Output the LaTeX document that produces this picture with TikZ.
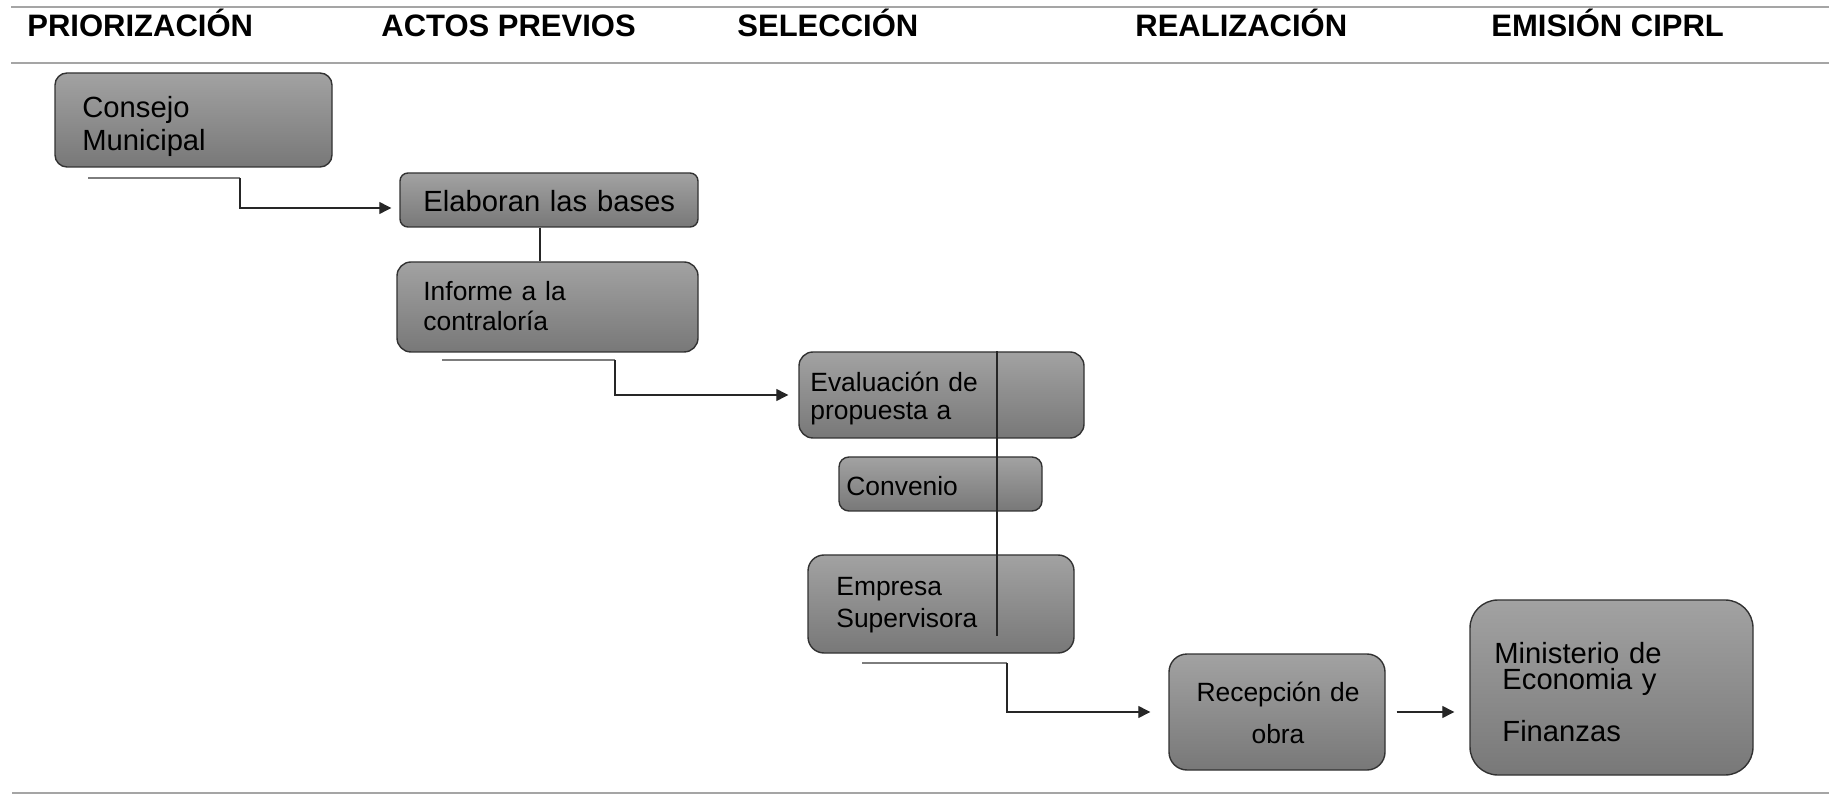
\documentclass[tikz,border=0pt]{standalone}
\usepackage{fontspec}
\setmainfont{Liberation Sans}
\usetikzlibrary{arrows.meta}
\definecolor{boxtop}{RGB}{162,162,162}
\definecolor{boxbot}{RGB}{120,120,120}
\definecolor{boxline}{RGB}{50,50,50}
\definecolor{rulec}{RGB}{165,165,165}
\definecolor{leadc}{RGB}{125,125,125}
\begin{document}
\begin{tikzpicture}[x=0.5pt,y=-0.5pt,
  box/.style={draw=boxline, line width=0.7pt, top color=boxtop, bottom color=boxbot, inner sep=0pt, rounded corners=#1},
  box/.default=5pt,
  head/.style={anchor=base west, inner sep=0pt, font=\fontsize{15.5}{18}\selectfont\bfseries},
  txt/.style={anchor=base west, inner sep=0pt, align=left, text width=#1},
  txt/.default=140pt,
  rulel/.style={draw=rulec, line width=1pt},
  leadl/.style={draw=leadc, line width=1pt},
  link/.style={draw=black!85, line width=0.6pt},
  arr/.style={link, -{Triangle[length=6pt,width=6pt]}}
]
\useasboundingbox (0,0) rectangle (1829,795);

% rules
\draw[rulel] (11,7.5) -- (1829,7.5);
\draw[rulel] (11,63.5) -- (1829,63.5);
\draw[rulel] (12,793) -- (1829,793);

% headers
\node[head] (h1) at (27,37) {PRIORIZACIÓN};
\node[head] (h2) at (381,37) {ACTOS PREVIOS};
\node[head] (h3) at (737,37) {SELECCIÓN};
\node[head] (h4) at (1135,37) {REALIZACIÓN};
\node[head] (h5) at (1491,37) {EMISIÓN CIPRL};

% boxes
\node[box=6pt, minimum width=138.5pt, minimum height=47pt] (consejo) at (193.5,120) {};
\node[box=4pt, minimum width=149pt, minimum height=27pt] (elab) at (549,200) {};
\node[box=7pt, minimum width=150.5pt, minimum height=45pt] (informe) at (547.5,307) {};
\node[box=7pt, minimum width=142.5pt, minimum height=43pt] (eval) at (941.5,395) {};
\node[box=5pt, minimum width=101.5pt, minimum height=27pt] (conv) at (940.5,484) {};
\node[box=8pt, minimum width=133pt, minimum height=49pt] (emp) at (941,604) {};
\node[box=9pt, minimum width=108pt, minimum height=58pt] (recep) at (1277,712) {};
\node[box=14pt, minimum width=141.5pt, minimum height=87.5pt] (minist) at (1611.5,687.5) {};

% texts
\node[txt, font=\fontsize{14.6}{16.25}\selectfont] (tconsejo) at (82,118) {Consejo\\Municipal};
\node[txt, font=\fontsize{14.6}{16.25}\selectfont] (telab) at (423,212) {Elaboran las bases};
\node[txt, font=\fontsize{13.2}{15}\selectfont] (tinforme) at (423,301) {Informe a la\\contraloría};
\node[txt, font=\fontsize{13.2}{14}\selectfont] (teval) at (810,392) {Evaluación de\\propuesta a};
\node[txt, font=\fontsize{13.2}{15}\selectfont] (tconv) at (846,496) {Convenio};
\node[txt, font=\fontsize{13.2}{16}\selectfont] (temp) at (836,596) {Empresa\\Supervisora};
\node[anchor=base, inner sep=0pt, align=center, text width=100pt, font=\fontsize{13.2}{21}\selectfont] (trecep) at (1278,701) {Recepción de\\obra};
\node[txt, font=\fontsize{14.6}{13}\selectfont] (tmin) at (1494,663) {Ministerio de\\\hspace*{4pt}Economia y\\[11.5pt]\hspace*{4pt}Finanzas};

% connectors
\coordinate (s1) at (88,178);
\coordinate (k1) at (240,178);
\draw[leadl] (s1) -- (k1);
\draw[arr, shorten >=4pt] (k1) |- ([yshift=-4pt]elab.west);

\coordinate (v1) at (540,0);
\draw[link] (elab.south -| v1) -- (informe.north -| v1);

\coordinate (s2) at (442,360);
\coordinate (k2) at (615,360);
\draw[leadl] (s2) -- (k2);
\draw[arr, shorten >=5pt] (k2) |- (eval.west);

\coordinate (vend) at (997,636);
\draw[link] (vend |- eval.north) -- (vend);

\coordinate (s3) at (862,663);
\coordinate (k3) at (1007,663);
\draw[leadl] (s3) -- (k3);
\draw[arr, shorten >=9pt] (k3) |- (recep.west);

\draw[arr, shorten <=5.5pt, shorten >=7.5pt] (recep.east) -- (recep.east -| minist.west);
\end{tikzpicture}
\end{document}
